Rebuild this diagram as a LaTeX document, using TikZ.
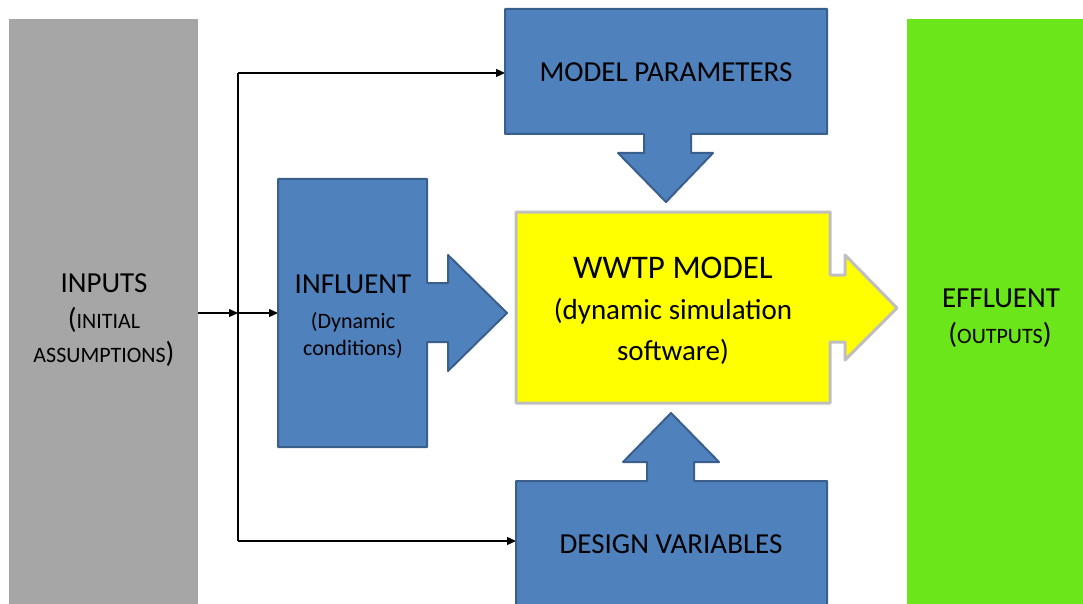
\documentclass[tikz,border=0pt]{standalone}
\usepackage{fontspec}
\setmainfont{Carlito}
\usetikzlibrary{arrows.meta}

\definecolor{inputgray}{HTML}{A6A6A6}
\definecolor{outgreen}{HTML}{6BE61B}
\definecolor{blockblue}{HTML}{4F81BD}
\definecolor{blockedge}{HTML}{3A5F8C}
\definecolor{modelyellow}{HTML}{FFFF00}
\definecolor{modeledge}{HTML}{BFBFBF}

\newcommand{\bigparen}[1]{{\fontsize{29}{34}\selectfont #1}}

\begin{document}
\begin{tikzpicture}[x=1pt,y=-1pt,
  sidebar/.style={inner sep=0pt, outer sep=0pt, minimum width=189pt, minimum height=600pt, anchor=north west},
  blueblock/.style={fill=blockblue, draw=blockedge, line width=2pt, line join=round},
  modelblock/.style={fill=modelyellow, draw=modeledge, line width=3pt, line join=round},
  bigtext/.style={font=\fontsize{29}{34}\selectfont, inner sep=0pt, anchor=base},
  smalltext/.style={font=\fontsize{22}{26}\selectfont, inner sep=0pt, anchor=base},
  link/.style={line width=1.2pt, -{Triangle[length=9pt,width=8pt]}}
]
\useasboundingbox (0,0) rectangle (1083,604);
\clip (0,0) rectangle (1083,604);

% side columns: inputs and outputs
\node[sidebar, fill=inputgray] (inputs) at (9,19) {};
\node[sidebar, fill=outgreen, minimum width=200pt] (effluent) at (907,19) {};

% connector points
\coordinate (split)    at (238,313);
\coordinate (railtop)  at (238,73);
\coordinate (railbot)  at (238,541);
\coordinate (paramin)  at (505,73);
\coordinate (designin) at (516,541);
\coordinate (inflin)   at (278,313);

% distribution of the inputs
\draw[line width=1.2pt] (railtop) -- (railbot);
\draw[link] (inputs.east |- split) -- (split);
\draw[link] (split) -- (inflin);
\draw[link] (railtop) -- (paramin);
\draw[link] (railbot) -- (designin);

% model parameters with downward arrow
\draw[blueblock] (505,9) -- (827,9) -- (827,134) -- (691,134) -- (691,153)
  -- (713,153) -- (666,202) -- (618,153) -- (644,153) -- (644,134)
  -- (505,134) -- cycle;

% influent with right arrow
\draw[blueblock] (278,179) -- (427,179) -- (427,283) -- (448,283) -- (448,255)
  -- (507,313) -- (448,371) -- (448,342) -- (427,342) -- (427,447)
  -- (278,447) -- cycle;

% design variables with upward arrow
\draw[blueblock] (516,481) -- (647,481) -- (647,462) -- (623,462) -- (671,413)
  -- (719,462) -- (694,462) -- (694,481) -- (827,481) -- (827,620)
  -- (516,620) -- cycle;

% WWTP model with right arrow
\draw[modelblock] (516,212) -- (830,212) -- (830,275) -- (845,275) -- (845,255)
  -- (897,308) -- (845,360) -- (845,342) -- (830,342) -- (830,403)
  -- (516,403) -- cycle;

% labels
\node[bigtext] (inputsA) at (104,292) {INPUTS};
\node[smalltext] (inputsB) at (104,328) {\bigparen{(}INITIAL};
\node[smalltext] (inputsC) at (104,362) {ASSUMPTIONS\bigparen{)}};

\node[bigtext] (inflA) at (353,293) {INFLUENT};
\node[smalltext] (inflB) at (353,328) {(Dynamic};
\node[smalltext] (inflC) at (353,355) {conditions)};

\node[bigtext] (paramA) at (666,82) {MODEL PARAMETERS};

\node[bigtext, font=\fontsize{33}{38}\selectfont] (modelA) at (673,278) {WWTP MODEL};
\node[bigtext] (modelB) at (673,319) {(dynamic simulation};
\node[bigtext] (modelC) at (673,360) {software)};

\node[bigtext] (designA) at (671,553) {DESIGN VARIABLES};

\node[bigtext] (effA) at (1001,307) {EFFLUENT};
\node[smalltext] (effB) at (1000,343) {\bigparen{(}OUTPUTS\bigparen{)}};
\end{tikzpicture}
\end{document}
